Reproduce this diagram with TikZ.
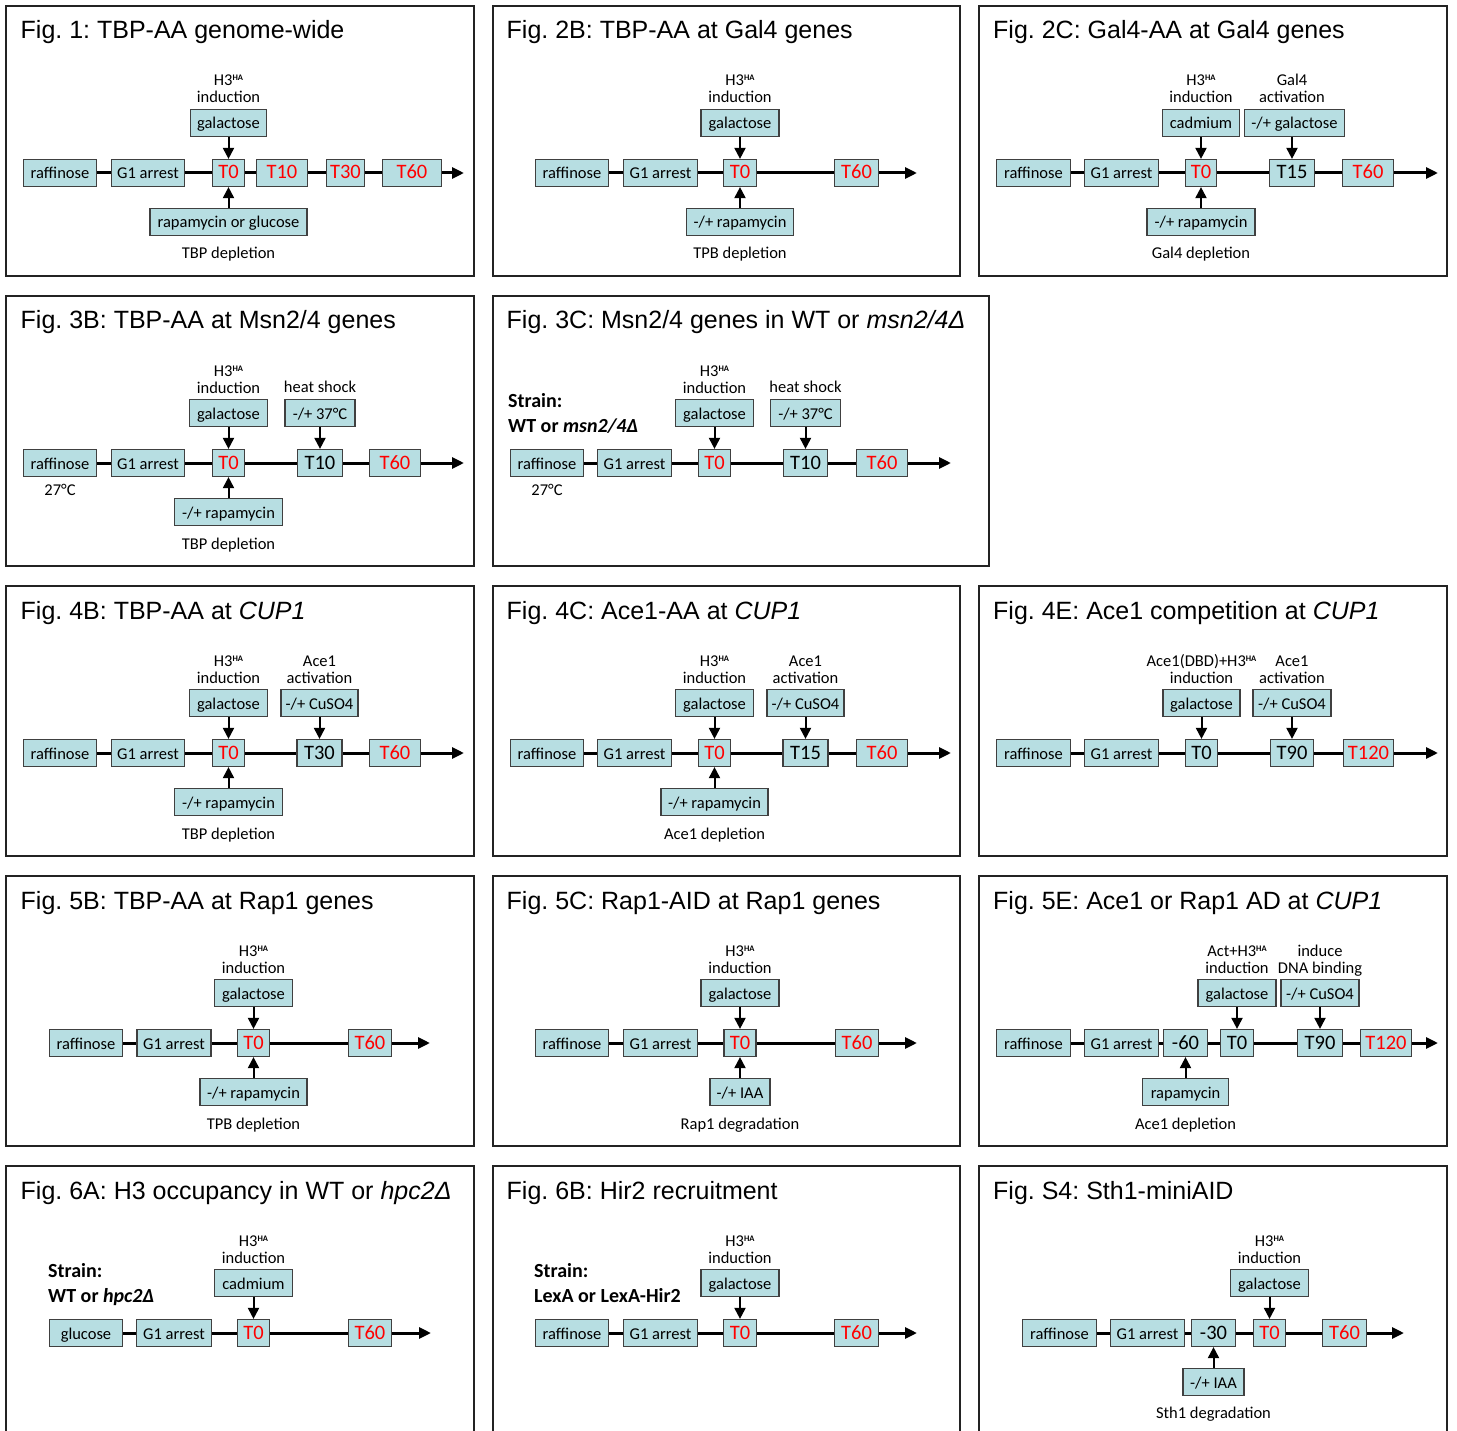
\documentclass[tikz,border=0pt]{standalone}
\usepackage{fontspec}
\setmainfont{Carlito}
\newfontfamily\arialfamily{Liberation Sans}
\usetikzlibrary{arrows.meta}
\frenchspacing
\definecolor{boxfill}{RGB}{183,222,226}
\definecolor{boxline}{RGB}{64,64,64}
\definecolor{timered}{RGB}{255,0,0}
\definecolor{framegray}{RGB}{35,35,35}
\newcommand\titlefont{\arialfamily\fontsize{25}{30}\selectfont}
\newcommand\boxfont{\fontsize{16.5}{17}\selectfont}
\newcommand\timefont{\fontsize{20.5}{22}\selectfont}
\newcommand\strainfont{\bfseries\fontsize{20}{25}\selectfont}
\newcommand\hasup{\raisebox{5pt}{\fontsize{8.5}{8.5}\selectfont\bfseries HA}}
\tikzset{
  panelframe/.style={draw=framegray, line width=2pt},
  figtitle/.style={anchor=base west, inner sep=0pt, font=\titlefont},
  stepbox/.style={draw=boxline, fill=boxfill, line width=1.2pt, minimum height=27pt, inner sep=0pt, text height=13.5pt, text depth=1.5pt, font=\boxfont},
  timebox/.style={stepbox, font=\timefont},
  redtime/.style={timebox, text=timered},
  mainline/.style={line width=3pt, -{Triangle[width=11pt,length=12pt]}},
  feedarrow/.style={line width=2pt, -{Triangle[width=11pt,length=11pt]}},
  uplabel/.style={anchor=base, align=center, inner sep=0pt, font=\boxfont},
  downlabel/.style={anchor=base, inner sep=0pt, font=\boxfont},
  strainlabel/.style={anchor=base west, inner sep=0pt, font=\strainfont}
}

\begin{document}
\begin{tikzpicture}[x=1pt, y=-1pt]
  \useasboundingbox (0,0) rectangle (1457,1431);

  % Panel frames
  \draw[panelframe] (6,6) rectangle (474,276);
  \draw[panelframe] (493,6) rectangle (960,276);
  \draw[panelframe] (979,6) rectangle (1447,276);
  \draw[panelframe] (6,296) rectangle (474,566);
  \draw[panelframe] (493,296) rectangle (989,566);
  \draw[panelframe] (6,586) rectangle (474,856);
  \draw[panelframe] (493,586) rectangle (960,856);
  \draw[panelframe] (979,586) rectangle (1447,856);
  \draw[panelframe] (6,876) rectangle (474,1146);
  \draw[panelframe] (493,876) rectangle (960,1146);
  \draw[panelframe] (979,876) rectangle (1447,1146);
  \draw[panelframe] (6,1166) rectangle (474,1440);
  \draw[panelframe] (493,1166) rectangle (960,1440);
  \draw[panelframe] (979,1166) rectangle (1447,1440);

  % Fig. 1
  \node[figtitle] (p1title) at (20.5,39) {Fig. 1: TBP-AA genome-wide};
  \node[stepbox, minimum width=73] (p1raf) at (60,173) {raffinose};
  \node[stepbox, minimum width=73] (p1arr) at (148,173) {G1 arrest};
  \node[redtime, minimum width=32] (p1t0) at (228.5,173) {T0};
  \node[redtime, minimum width=51] (p1t10) at (282,173) {T10};
  \node[redtime, minimum width=38] (p1t30) at (345.5,173) {T30};
  \node[redtime, minimum width=59] (p1t60) at (412,173) {T60};
  \coordinate (p1end) at (464,173);
  \node[stepbox, minimum width=76] (p1gal) at (228.5,123) {galactose};
  \node[stepbox, minimum width=157] (p1rap) at (228.5,222) {rapamycin or glucose};
  \node[uplabel] (p1ind) at (228.5,103) {H3\hasup\\induction};
  \node[downlabel] (p1dep) at (228.5,259) {TBP depletion};
  \draw[mainline] (p1raf) -- (p1arr) -- (p1t0) -- (p1t10) -- (p1t30) -- (p1t60) -- (p1end);
  \draw[feedarrow] (p1gal) -- (p1t0);
  \draw[feedarrow] (p1rap) -- (p1t0);

  % Fig. 2B
  \node[figtitle] (p2btitle) at (506.5,39) {Fig. 2B: TBP-AA at Gal4 genes};
  \node[stepbox, minimum width=73] (p2braf) at (572,173) {raffinose};
  \node[stepbox, minimum width=74] (p2barr) at (660.5,173) {G1 arrest};
  \node[redtime, minimum width=33] (p2bt0) at (740,173) {T0};
  \node[redtime, minimum width=44] (p2bt60) at (856.5,173) {T60};
  \coordinate (p2bend) at (917,173);
  \node[stepbox, minimum width=78] (p2bgal) at (740,123) {galactose};
  \node[stepbox, minimum width=107] (p2brap) at (740,222) {-/+ rapamycin};
  \node[uplabel] (p2bind) at (740,103) {H3\hasup\\induction};
  \node[downlabel] (p2bdep) at (740,259) {TPB depletion};
  \draw[mainline] (p2braf) -- (p2barr) -- (p2bt0) -- (p2bt60) -- (p2bend);
  \draw[feedarrow] (p2bgal) -- (p2bt0);
  \draw[feedarrow] (p2brap) -- (p2bt0);

  % Fig. 2C
  \node[figtitle] (p2ctitle) at (993,39) {Fig. 2C: Gal4-AA at Gal4 genes};
  \node[stepbox, minimum width=74] (p2craf) at (1033.5,173) {raffinose};
  \node[stepbox, minimum width=74] (p2carr) at (1121.5,173) {G1 arrest};
  \node[redtime, minimum width=31] (p2ct0) at (1201,173) {T0};
  \node[timebox, minimum width=45] (p2ct15) at (1292,173) {T15};
  \node[redtime, minimum width=51] (p2ct60) at (1368,173) {T60};
  \coordinate (p2cend) at (1438,173);
  \node[stepbox, minimum width=77] (p2ccad) at (1201,123) {cadmium};
  \node[stepbox, minimum width=100] (p2cgal) at (1294.5,123) {-/+ galactose};
  \node[stepbox, minimum width=108] (p2crap) at (1201,222) {-/+ rapamycin};
  \node[uplabel] (p2cind) at (1201,103) {H3\hasup\\induction};
  \node[uplabel] (p2cact) at (1292,103) {Gal4\\activation};
  \node[downlabel] (p2cdep) at (1201,259) {Gal4 depletion};
  \draw[mainline] (p2craf) -- (p2carr) -- (p2ct0) -- (p2ct15) -- (p2ct60) -- (p2cend);
  \draw[feedarrow] (p2ccad) -- (p2ct0);
  \draw[feedarrow] (p2cgal.south -| p2ct15) -- (p2ct15);
  \draw[feedarrow] (p2crap) -- (p2ct0);

  % Fig. 3B
  \node[figtitle] (p3btitle) at (20.5,329) {Fig. 3B: TBP-AA at Msn2/4 genes};
  \node[stepbox, minimum width=73] (p3braf) at (60,463) {raffinose};
  \node[stepbox, minimum width=73] (p3barr) at (148,463) {G1 arrest};
  \node[redtime, minimum width=32] (p3bt0) at (228.5,463) {T0};
  \node[timebox, minimum width=45] (p3bt10) at (320,463) {T10};
  \node[redtime, minimum width=51] (p3bt60) at (395,463) {T60};
  \coordinate (p3bend) at (464,463);
  \node[stepbox, minimum width=78] (p3bgal) at (228.5,413) {galactose};
  \node[stepbox, minimum width=70] (p3bheat) at (320,413) {-/+ 37°C};
  \node[stepbox, minimum width=108] (p3brap) at (228.5,512) {-/+ rapamycin};
  \node[uplabel] (p3bind) at (228.5,393) {H3\hasup\\induction};
  \node[downlabel] (p3bshock) at (320,392) {heat shock};
  \node[downlabel] (p3btemp) at (60,495) {27°C};
  \node[downlabel] (p3bdep) at (228.5,549) {TBP depletion};
  \draw[mainline] (p3braf) -- (p3barr) -- (p3bt0) -- (p3bt10) -- (p3bt60) -- (p3bend);
  \draw[feedarrow] (p3bgal) -- (p3bt0);
  \draw[feedarrow] (p3bheat) -- (p3bt10);
  \draw[feedarrow] (p3brap) -- (p3bt0);

  % Fig. 3C
  \node[figtitle] (p3ctitle) at (506.5,329) {Fig. 3C: Msn2/4 genes in WT or \textit{msn2/4Δ}};
  \node[strainlabel] (p3cstrain) at (508,407) {Strain:};
  \node[strainlabel] (p3cwt) at (508,432) {WT or \textit{msn2/4Δ}};
  \node[stepbox, minimum width=73] (p3craf) at (547,463) {raffinose};
  \node[stepbox, minimum width=74] (p3carr) at (634.5,463) {G1 arrest};
  \node[redtime, minimum width=32] (p3ct0) at (714.5,463) {T0};
  \node[timebox, minimum width=44] (p3ct10) at (805.5,463) {T10};
  \node[redtime, minimum width=51] (p3ct60) at (882,463) {T60};
  \coordinate (p3cend) at (951,463);
  \node[stepbox, minimum width=78] (p3cgal) at (714.5,413) {galactose};
  \node[stepbox, minimum width=70] (p3cheat) at (805.5,413) {-/+ 37°C};
  \node[uplabel] (p3cind) at (714.5,393) {H3\hasup\\induction};
  \node[downlabel] (p3cshock) at (805.5,392) {heat shock};
  \node[downlabel] (p3ctemp) at (547,495) {27°C};
  \draw[mainline] (p3craf) -- (p3carr) -- (p3ct0) -- (p3ct10) -- (p3ct60) -- (p3cend);
  \draw[feedarrow] (p3cgal) -- (p3ct0);
  \draw[feedarrow] (p3cheat) -- (p3ct10);

  % Fig. 4B
  \node[figtitle] (p4btitle) at (20.5,619) {Fig. 4B: TBP-AA at \textit{CUP1}};
  \node[stepbox, minimum width=73] (p4braf) at (60,753) {raffinose};
  \node[stepbox, minimum width=73] (p4barr) at (148,753) {G1 arrest};
  \node[redtime, minimum width=32] (p4bt0) at (228.5,753) {T0};
  \node[timebox, minimum width=45] (p4bt30) at (319.5,753) {T30};
  \node[redtime, minimum width=51] (p4bt60) at (395,753) {T60};
  \coordinate (p4bend) at (464,753);
  \node[stepbox, minimum width=78] (p4bgal) at (228.5,703) {galactose};
  \node[stepbox, minimum width=77] (p4bcu) at (319.5,703) {-/+ CuSO4};
  \node[stepbox, minimum width=108] (p4brap) at (228.5,802) {-/+ rapamycin};
  \node[uplabel] (p4bind) at (228.5,683) {H3\hasup\\induction};
  \node[uplabel] (p4bact) at (319.5,683) {Ace1\\activation};
  \node[downlabel] (p4bdep) at (228.5,839) {TBP depletion};
  \draw[mainline] (p4braf) -- (p4barr) -- (p4bt0) -- (p4bt30) -- (p4bt60) -- (p4bend);
  \draw[feedarrow] (p4bgal) -- (p4bt0);
  \draw[feedarrow] (p4bcu) -- (p4bt30);
  \draw[feedarrow] (p4brap) -- (p4bt0);

  % Fig. 4C
  \node[figtitle] (p4ctitle) at (506.5,619) {Fig. 4C: Ace1-AA at \textit{CUP1}};
  \node[stepbox, minimum width=73] (p4craf) at (547,753) {raffinose};
  \node[stepbox, minimum width=74] (p4carr) at (634.5,753) {G1 arrest};
  \node[redtime, minimum width=32] (p4ct0) at (714.5,753) {T0};
  \node[timebox, minimum width=45] (p4ct15) at (805.5,753) {T15};
  \node[redtime, minimum width=51] (p4ct60) at (882,753) {T60};
  \coordinate (p4cend) at (951,753);
  \node[stepbox, minimum width=78] (p4cgal) at (714.5,703) {galactose};
  \node[stepbox, minimum width=77] (p4ccu) at (805.5,703) {-/+ CuSO4};
  \node[stepbox, minimum width=107] (p4crap) at (714.5,802) {-/+ rapamycin};
  \node[uplabel] (p4cind) at (714.5,683) {H3\hasup\\induction};
  \node[uplabel] (p4cact) at (805.5,683) {Ace1\\activation};
  \node[downlabel] (p4cdep) at (714.5,839) {Ace1 depletion};
  \draw[mainline] (p4craf) -- (p4carr) -- (p4ct0) -- (p4ct15) -- (p4ct60) -- (p4cend);
  \draw[feedarrow] (p4cgal) -- (p4ct0);
  \draw[feedarrow] (p4ccu) -- (p4ct15);
  \draw[feedarrow] (p4crap) -- (p4ct0);

  % Fig. 4E
  \node[figtitle] (p4etitle) at (993,619) {Fig. 4E: Ace1 competition at \textit{CUP1}};
  \node[stepbox, minimum width=74] (p4eraf) at (1033.5,753) {raffinose};
  \node[stepbox, minimum width=74] (p4earr) at (1121.5,753) {G1 arrest};
  \node[timebox, minimum width=32] (p4et0) at (1201.5,753) {T0};
  \node[timebox, minimum width=43] (p4et90) at (1292,753) {T90};
  \node[redtime, minimum width=50] (p4et120) at (1368.5,753) {T120};
  \coordinate (p4eend) at (1438,753);
  \node[stepbox, minimum width=77] (p4egal) at (1201.5,703) {galactose};
  \node[stepbox, minimum width=78] (p4ecu) at (1292,703) {-/+ CuSO4};
  \node[uplabel] (p4eind) at (1201.5,683) {Ace1(DBD)+H3\hasup\\induction};
  \node[uplabel] (p4eact) at (1292,683) {Ace1\\activation};
  \draw[mainline] (p4eraf) -- (p4earr) -- (p4et0) -- (p4et90) -- (p4et120) -- (p4eend);
  \draw[feedarrow] (p4egal) -- (p4et0);
  \draw[feedarrow] (p4ecu) -- (p4et90);

  % Fig. 5B
  \node[figtitle] (p5btitle) at (20.5,909) {Fig. 5B: TBP-AA at Rap1 genes};
  \node[stepbox, minimum width=73] (p5braf) at (86,1043) {raffinose};
  \node[stepbox, minimum width=74] (p5barr) at (174,1043) {G1 arrest};
  \node[redtime, minimum width=32] (p5bt0) at (253.5,1043) {T0};
  \node[redtime, minimum width=43] (p5bt60) at (370,1043) {T60};
  \coordinate (p5bend) at (430,1043);
  \node[stepbox, minimum width=78] (p5bgal) at (253.5,993) {galactose};
  \node[stepbox, minimum width=107] (p5brap) at (253.5,1092) {-/+ rapamycin};
  \node[uplabel] (p5bind) at (253.5,973) {H3\hasup\\induction};
  \node[downlabel] (p5bdep) at (253.5,1129) {TPB depletion};
  \draw[mainline] (p5braf) -- (p5barr) -- (p5bt0) -- (p5bt60) -- (p5bend);
  \draw[feedarrow] (p5bgal) -- (p5bt0);
  \draw[feedarrow] (p5brap) -- (p5bt0);

  % Fig. 5C
  \node[figtitle] (p5ctitle) at (506.5,909) {Fig. 5C: Rap1-AID at Rap1 genes};
  \node[stepbox, minimum width=73] (p5craf) at (572,1043) {raffinose};
  \node[stepbox, minimum width=74] (p5carr) at (660.5,1043) {G1 arrest};
  \node[redtime, minimum width=32] (p5ct0) at (740,1043) {T0};
  \node[redtime, minimum width=43] (p5ct60) at (857,1043) {T60};
  \coordinate (p5cend) at (917,1043);
  \node[stepbox, minimum width=78] (p5cgal) at (740,993) {galactose};
  \node[stepbox, minimum width=60] (p5ciaa) at (740,1092) {-/+ IAA};
  \node[uplabel] (p5cind) at (740,973) {H3\hasup\\induction};
  \node[downlabel] (p5cdeg) at (740,1129) {Rap1 degradation};
  \draw[mainline] (p5craf) -- (p5carr) -- (p5ct0) -- (p5ct60) -- (p5cend);
  \draw[feedarrow] (p5cgal) -- (p5ct0);
  \draw[feedarrow] (p5ciaa) -- (p5ct0);

  % Fig. 5E
  \node[figtitle] (p5etitle) at (993,909) {Fig. 5E: Ace1 or Rap1 AD at \textit{CUP1}};
  \node[stepbox, minimum width=74] (p5eraf) at (1033.5,1043) {raffinose};
  \node[stepbox, minimum width=74] (p5earr) at (1121.5,1043) {G1 arrest};
  \node[timebox, minimum width=44] (p5em60) at (1185.5,1043) {-60};
  \node[timebox, minimum width=33] (p5et0) at (1237,1043) {T0};
  \node[timebox, minimum width=45] (p5et90) at (1320,1043) {T90};
  \node[redtime, minimum width=51] (p5et120) at (1386,1043) {T120};
  \coordinate (p5eend) at (1438,1043);
  \node[stepbox, minimum width=78] (p5egal) at (1237,993) {galactose};
  \node[stepbox, minimum width=78] (p5ecu) at (1320,993) {-/+ CuSO4};
  \node[stepbox, minimum width=86] (p5erap) at (1185.5,1092) {rapamycin};
  \node[uplabel] (p5eind) at (1237,973) {Act+H3\hasup\\induction};
  \node[uplabel] (p5ebind) at (1320,973) {induce\\DNA binding};
  \node[downlabel] (p5edep) at (1185.5,1129) {Ace1 depletion};
  \draw[mainline] (p5eraf) -- (p5earr) -- (p5em60) -- (p5et0) -- (p5et90) -- (p5et120) -- (p5eend);
  \draw[feedarrow] (p5egal) -- (p5et0);
  \draw[feedarrow] (p5ecu) -- (p5et90);
  \draw[feedarrow] (p5erap) -- (p5em60);

  % Fig. 6A
  \node[figtitle] (p6atitle) at (20.5,1199) {Fig. 6A: H3 occupancy in WT or \textit{hpc2Δ}};
  \node[strainlabel] (p6astrain) at (48,1277) {Strain:};
  \node[strainlabel] (p6awt) at (48,1302) {WT or \textit{hpc2Δ}};
  \node[stepbox, minimum width=73] (p6aglu) at (86,1333) {glucose};
  \node[stepbox, minimum width=75] (p6aarr) at (174,1333) {G1 arrest};
  \node[redtime, minimum width=32] (p6at0) at (253.5,1333) {T0};
  \node[redtime, minimum width=43] (p6at60) at (370,1333) {T60};
  \coordinate (p6aend) at (431,1333);
  \node[stepbox, minimum width=78] (p6acad) at (253.5,1283) {cadmium};
  \node[uplabel] (p6aind) at (253.5,1263) {H3\hasup\\induction};
  \draw[mainline] (p6aglu) -- (p6aarr) -- (p6at0) -- (p6at60) -- (p6aend);
  \draw[feedarrow] (p6acad) -- (p6at0);

  % Fig. 6B
  \node[figtitle] (p6btitle) at (506.5,1199) {Fig. 6B: Hir2 recruitment};
  \node[strainlabel] (p6bstrain) at (534,1277) {Strain:};
  \node[strainlabel] (p6blexa) at (534,1302) {LexA or LexA-Hir2};
  \node[stepbox, minimum width=73] (p6braf) at (572,1333) {raffinose};
  \node[stepbox, minimum width=74] (p6barr) at (660.5,1333) {G1 arrest};
  \node[redtime, minimum width=33] (p6bt0) at (740,1333) {T0};
  \node[redtime, minimum width=44] (p6bt60) at (856.5,1333) {T60};
  \coordinate (p6bend) at (917,1333);
  \node[stepbox, minimum width=78] (p6bgal) at (740,1283) {galactose};
  \node[uplabel] (p6bind) at (740,1263) {H3\hasup\\induction};
  \draw[mainline] (p6braf) -- (p6barr) -- (p6bt0) -- (p6bt60) -- (p6bend);
  \draw[feedarrow] (p6bgal) -- (p6bt0);

  % Fig. S4
  \node[figtitle] (ps4title) at (993,1199) {Fig. S4: Sth1-miniAID};
  \node[stepbox, minimum width=74] (ps4raf) at (1059.5,1333) {raffinose};
  \node[stepbox, minimum width=74] (ps4arr) at (1147.5,1333) {G1 arrest};
  \node[timebox, minimum width=44] (ps4m30) at (1213.5,1333) {-30};
  \node[redtime, minimum width=32] (ps4t0) at (1269.5,1333) {T0};
  \node[redtime, minimum width=44] (ps4t60) at (1344.5,1333) {T60};
  \coordinate (ps4end) at (1404,1333);
  \node[stepbox, minimum width=78] (ps4gal) at (1269.5,1283) {galactose};
  \node[stepbox, minimum width=61] (ps4iaa) at (1213.5,1382) {-/+ IAA};
  \node[uplabel] (ps4ind) at (1269.5,1263) {H3\hasup\\induction};
  \node[downlabel] (ps4deg) at (1213.5,1418) {Sth1 degradation};
  \draw[mainline] (ps4raf) -- (ps4arr) -- (ps4m30) -- (ps4t0) -- (ps4t60) -- (ps4end);
  \draw[feedarrow] (ps4gal) -- (ps4t0);
  \draw[feedarrow] (ps4iaa) -- (ps4m30);
\end{tikzpicture}
\end{document}
